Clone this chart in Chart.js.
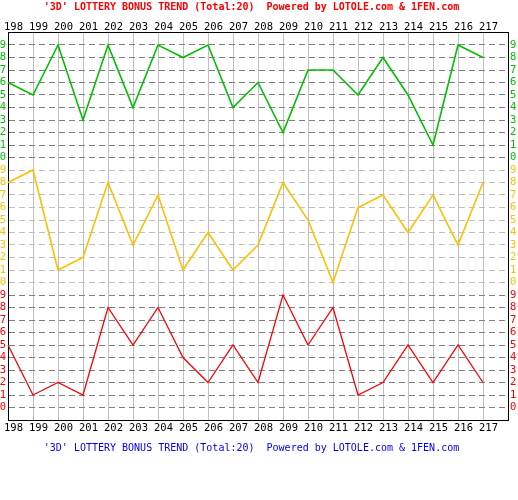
<!DOCTYPE html>
<html>
<head>
<meta charset="utf-8">
<script src="https://cdn.jsdelivr.net/npm/chart.js@4.4.0/dist/chart.umd.min.js"></script>
<style>
html,body{margin:0;padding:0;background:#fff;}
canvas{display:block;}
</style>
</head>
<body>
<canvas id="c" width="518" height="500"></canvas>
<script>
// Draw numbers (periods)
const periods = ['198','199','200','201','202','203','204','205','206','207','208','209','210','211','212','213','214','215','216','217'];
// Digit values per position (0-9)
const greenDigits  = [6,5,9,3,9,4,9,8,9,4,6,2,7,7,5,8,5,1,9,8];
const yellowDigits = [8,9,1,2,8,3,7,1,4,1,3,8,5,0,6,7,4,7,3,8];
const redDigits    = [5,1,2,1,8,5,8,4,2,5,2,9,5,8,1,2,5,2,5,2];
// Tick label digits shown in each band
const bandDigits = ['0','1','2','3','4','5','6','7','8','9'];

const titleText = "'3D' LOTTERY BONUS TREND (Total:20)  Powered by LOTOLE.com & 1FEN.com";

const GREEN = '#00c000', YELLOW = '#ffbf00', RED = '#ff0000';
const FONT = {family: "'DejaVu Sans Mono', monospace", size: 10};
const TICKFONT = {family: "'DejaVu Sans Mono', monospace", size: 10.5};

// band offsets: red 0..9, yellow 10..19, green 20..29
const RED_BASE = 0, YELLOW_BASE = 10, GREEN_BASE = 20;
const xLabels = periods.concat(['']);

function bandColor(v){ return v >= GREEN_BASE ? GREEN : (v >= YELLOW_BASE ? YELLOW : RED); }

new Chart(document.getElementById('c'), {
  type: 'line',
  data: {
    labels: xLabels,
    datasets: [
      {data: greenDigits.map(v => v + GREEN_BASE), borderColor: GREEN, borderWidth: 1.6},
      {data: yellowDigits.map(v => v + YELLOW_BASE), borderColor: YELLOW, borderWidth: 1.6},
      {data: redDigits.map(v => v + RED_BASE), borderColor: RED, borderWidth: 1.3}
    ]
  },
  options: {
    responsive: false,
    animation: false,
    devicePixelRatio: 1,
    layout: {padding: {left: -15, right: 0, top: 0, bottom: 0}},
    elements: {point: {radius: 0}, line: {tension: 0, fill: false}},
    plugins: {
      legend: {display: false},
      tooltip: {enabled: false},
      title: {display: true, text: titleText, color: '#ff0000', font: FONT, padding: {top: 1, bottom: 1}},
      subtitle: {display: true, position: 'bottom', text: titleText, color: '#0000ff', font: FONT, padding: {top: 8, bottom: 46}}
    },
    scales: {
      x: {
        type: 'category',
        position: 'bottom',
        offset: false,
        grid: {display: true, drawTicks: false, lineWidth: 1,
          color: (ctx) => (ctx.index === 0 || ctx.index === xLabels.length - 1) ? 'rgba(0,0,0,0)' : '#c0c0c0'},
        border: {display: true, color: '#000', width: 1},
        ticks: {color: '#000', font: TICKFONT, padding: 2, labelOffset: 5.5, autoSkip: false, maxRotation: 0, minRotation: 0},
        afterFit: (s) => { s.height = 14; s.paddingLeft = 0; s.paddingRight = 0; }
      },
      x2: {
        type: 'category',
        position: 'top',
        offset: false,
        grid: {display: false, drawTicks: false},
        border: {display: true, color: '#000', width: 1},
        ticks: {color: '#000', font: TICKFONT, padding: -1.5, labelOffset: 5.5, autoSkip: false, maxRotation: 0, minRotation: 0},
        afterFit: (s) => { s.height = 18.5; s.paddingLeft = 0; s.paddingRight = 0; }
      },
      y: {
        type: 'linear',
        position: 'left',
        min: -1, max: 30,
        grid: {display: true, drawTicks: false, lineWidth: 1,
          color: (ctx) => {
            const v = ctx.tick ? ctx.tick.value : -1;
            if (v < 0 || v > 29) return 'rgba(0,0,0,0)';
            return (v >= YELLOW_BASE && v < GREEN_BASE) ? '#c0c0c0' : '#808080';
          }},
        border: {display: true, color: '#000', width: 1, dash: [6, 4]},
        ticks: {stepSize: 1, autoSkip: false, font: TICKFONT, padding: 2,
          color: (ctx) => bandColor(ctx.tick.value),
          callback: (v) => (v < 0 || v > 29) ? '' : bandDigits[v % 10]},
        afterFit: (s) => { s.width = 23; s.paddingTop = 0; s.paddingBottom = 0; }
      },
      y2: {
        type: 'linear',
        position: 'right',
        min: -1, max: 30,
        grid: {display: false, drawTicks: false},
        border: {display: true, color: '#000', width: 1},
        ticks: {stepSize: 1, autoSkip: false, font: TICKFONT, padding: 2,
          color: (ctx) => bandColor(ctx.tick.value),
          callback: (v) => (v < 0 || v > 29) ? '' : bandDigits[v % 10]},
        afterFit: (s) => { s.width = 10; s.paddingTop = 0; s.paddingBottom = 0; }
      }
    }
  }
});
</script>
</body>
</html>
